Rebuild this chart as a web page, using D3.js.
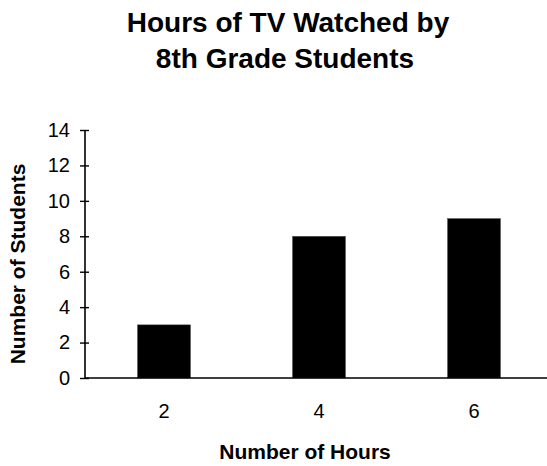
<!DOCTYPE html>
<html>
<head>
<meta charset="utf-8">
<script src="https://cdn.jsdelivr.net/npm/d3@7"></script>
<style>
  html, body { margin: 0; padding: 0; background: #fff; }
  svg { display: block; font-family: "Liberation Sans", Arial, sans-serif; }
</style>
</head>
<body>
<svg id="chart" width="547" height="466"></svg>
<script>
const categories = ["2", "4", "6"];
const values = [3, 8, 9];
const yTicks = [0, 2, 4, 6, 8, 10, 12, 14];
const titleLines = ["Hours of TV Watched by", "8th Grade Students"];
const xLabel = "Number of Hours";
const yLabel = "Number of Students";

const svg = d3.select("#chart");
const plot = { left: 85, right: 547, top: 130, bottom: 378 };

const x = d3.scaleBand().domain(categories).range([86.5, 551.5]).paddingInner(0.658).paddingOuter(0.329);
const y = d3.scaleLinear().domain([0, 14]).range([plot.bottom, plot.top]);

// bars
svg.append("g").selectAll("rect").data(values).join("rect")
  .attr("x", (d, i) => x(categories[i]))
  .attr("y", d => y(d))
  .attr("width", x.bandwidth())
  .attr("height", d => y(0) - y(d))
  .attr("fill", "#000")
  .attr("stroke", "#555")
  .attr("stroke-width", 0.5);

// y axis
const yAxis = svg.append("g").attr("transform", `translate(${plot.left},0)`)
  .call(d3.axisLeft(y).tickValues(yTicks).tickSize(5).tickPadding(10).tickFormat(d3.format("d")));
yAxis.select(".domain").attr("d", `M0,${plot.top}V${plot.bottom}`).attr("stroke-width", 1.6);
yAxis.selectAll(".tick line").attr("x1", 4).attr("x2", -5).attr("stroke-width", 1.4);
yAxis.selectAll(".tick text").attr("font-size", 20).attr("font-family", "Liberation Sans, Arial, sans-serif").attr("fill", "#000");

// x axis
const xAxis = svg.append("g").attr("transform", `translate(0,${plot.bottom})`)
  .call(d3.axisBottom(x).tickSize(0).tickPadding(26));
xAxis.select(".domain").attr("d", `M${plot.left},0H${plot.right}`).attr("stroke-width", 1.6);
xAxis.selectAll(".tick text").attr("font-size", 20).attr("font-family", "Liberation Sans, Arial, sans-serif").attr("fill", "#000");

// title
svg.append("text").attr("x", 288).attr("y", 32).attr("text-anchor", "middle")
  .attr("font-size", 28).attr("font-weight", "bold").text(titleLines[0]);
svg.append("text").attr("x", 285).attr("y", 68).attr("text-anchor", "middle")
  .attr("font-size", 28).attr("font-weight", "bold").text(titleLines[1]);

// axis labels
svg.append("text").attr("x", 305).attr("y", 459).attr("text-anchor", "middle")
  .attr("font-size", 21).attr("font-weight", "bold").text(xLabel);
svg.append("text").attr("transform", "translate(25,264) rotate(-90)").attr("text-anchor", "middle")
  .attr("font-size", 21).attr("font-weight", "bold").text(yLabel);
</script>
</body>
</html>
